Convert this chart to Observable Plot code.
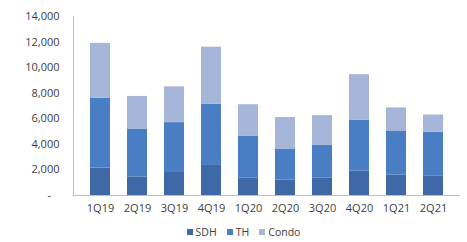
<!DOCTYPE html>
<html><head><meta charset="utf-8">
<script src="https://cdn.jsdelivr.net/npm/d3@7"></script>
<script src="https://cdn.jsdelivr.net/npm/@observablehq/plot@0.6"></script>
<style>
body{margin:0;background:#fff;font-family:"Open Sans",sans-serif;}
#legend{display:flex;justify-content:center;gap:10px;font-size:10.5px;color:#404040;height:20px;align-items:center;padding-left:20px;}
#legend span{display:flex;align-items:center;gap:3px;}
#legend i{display:inline-block;width:6px;height:6px;}
</style></head>
<body>
<div id="chart"></div>
<div id="legend"></div>
<script>
const quarters = ["1Q19","2Q19","3Q19","4Q19","1Q20","2Q20","3Q20","4Q20","1Q21","2Q21"];
const series = ["SDH","TH","Condo"];
const sdh   = [2150,1450,1800,2350,1350,1200,1350,1900,1600,1500];
const th    = [5450,3750,3900,4800,3300,2400,2600,4000,3450,3450];
const condo = [4300,2550,2800,4450,2450,2500,2300,3550,1800,1350];
const colors = ["#3E68A6","#4A7EC4","#A6B6D8"];
const yTicks = [0,2000,4000,6000,8000,10000,12000,14000];

const data = [];
const vals = [sdh, th, condo];
series.forEach((s, si) => quarters.forEach((q, qi) => data.push({quarter:q, series:s, value:vals[si][qi]})));

const chart = Plot.plot({
  width: 467, height: 222,
  marginLeft: 73, marginRight: 7, marginTop: 16, marginBottom: 27,
  style: {fontFamily: "Open Sans, sans-serif", fontSize: "11px", color: "#404040"},
  x: {domain: quarters, padding: 0.45, label: null, tickSize: 0, tickPadding: 9},
  y: {domain: [0,14000], ticks: yTicks, label: null, tickSize: 0, tickPadding: 14,
      tickFormat: d => d === 0 ? "-\u00a0\u00a0\u00a0" : d3.format(",")(d)},
  color: {domain: series, range: colors},
  marks: [
    Plot.barY(data, {x: "quarter", y: "value", fill: "series", order: series}),
    Plot.ruleY([0], {stroke: "#bfbfbf"}),
    Plot.frame({anchor: "left", stroke: "#bfbfbf"}),
  ]
});
document.getElementById("chart").appendChild(chart);

const leg = document.getElementById("legend");
series.forEach((s, i) => {
  const sp = document.createElement("span");
  const sw = document.createElement("i");
  sw.style.background = colors[i];
  sp.appendChild(sw);
  sp.appendChild(document.createTextNode(s));
  leg.appendChild(sp);
});
</script>
</body></html>
